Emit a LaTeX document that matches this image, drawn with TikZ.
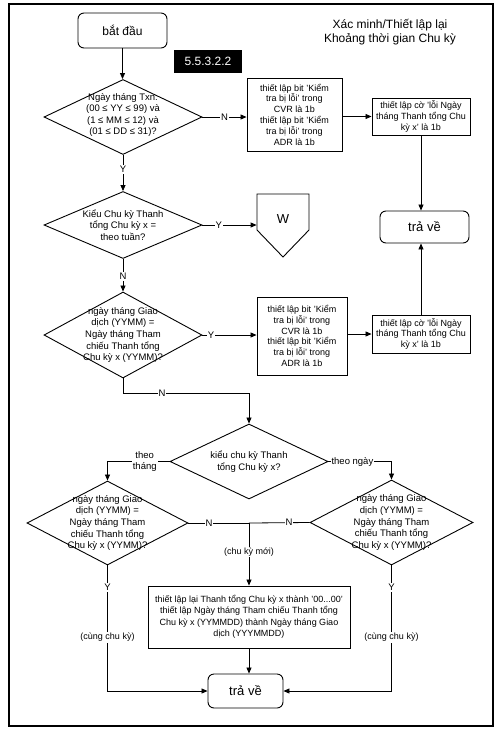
\documentclass[tikz,border=0pt]{standalone}
\usepackage{fontspec}
\setmainfont{Liberation Sans}
\usetikzlibrary{shapes.geometric,arrows.meta}
\begin{document}
\begin{tikzpicture}[x=1pt,y=-1pt,
  line width=0.8pt,
  arr/.style={-{Triangle[length=6pt,width=5pt]}},
  txt/.style={font=\fontsize{9.5}{11.6}\selectfont, align=center, inner sep=0pt},
  boxtxt/.style={font=\fontsize{9}{10.8}\selectfont, align=center},
  box/.style={draw, line width=0.9pt, boxtxt, inner sep=0pt},
  term/.style={draw, rounded corners=6pt, line width=0.9pt, font=\fontsize{13}{15}\selectfont},
  dia/.style={draw, diamond, inner sep=0pt, line width=0.9pt},
  lab/.style={fill=white, inner sep=1pt, font=\fontsize{9.5}{11}\selectfont, align=center},
]
\useasboundingbox (0,0) rectangle (501,732);
\draw[line width=1.4pt] (9,4) rectangle (493,726);

% nodes
\node[term, minimum width=89pt, minimum height=35pt, font=\fontsize{12}{14}\selectfont] (start) at (122.5,30.5) {bắt đầu};
\node[font=\fontsize{12}{14}\selectfont, align=center] (title) at (390,32) {Xác minh/Thiết lập lại\\Khoảng thời gian Chu kỳ};
\node[fill=black, text=white, minimum width=68pt, minimum height=23pt, font=\fontsize{12}{14}\selectfont] (sec) at (208,61.5) {5.5.3.2.2};

\node[dia, minimum width=158pt, minimum height=75pt] (d1) at (123,117) {};
\node[txt] (d1t) at (123,115) {Ngày tháng Txn:\\(00 ≤ YY ≤ 99) và\\(1 ≤ MM ≤ 12) và\\(01 ≤ DD ≤ 31)?};

\node[box, minimum width=95pt, minimum height=73pt] (b1) at (294.5,114.5) {thiết lập bit 'Kiểm\\tra bị lỗi' trong\\CVR là 1b\\thiết lập bit 'Kiểm\\tra bị lỗi' trong\\ADR là 1b};
\node[box, minimum width=98pt, minimum height=37pt] (b2) at (421,116.5) {thiết lập cờ 'lỗi Ngày\\tháng Thanh tổng Chu\\kỳ x' là 1b};
\node[term, minimum width=89pt, minimum height=32pt] (ret1) at (424.5,227) {trả về};

\node[dia, minimum width=158pt, minimum height=67pt] (d2) at (123,225) {};
\node[txt] (d2t) at (d2) {Kiểu Chu kỳ Thanh\\tổng Chu kỳ x =\\theo tuần?};

\node[minimum width=52pt, minimum height=12pt, inner sep=0pt, font=\fontsize{13}{15}\selectfont] (w) at (283,219) {W};
\draw[line width=0.9pt] (257,194) -- (309,194) -- (309,230) -- (283,257) -- (257,230) -- cycle;

\node[dia, minimum width=158pt, minimum height=86pt] (d3) at (123,335) {};
\node[txt] (d3t) at (d3) {ngày tháng Giao\\dịch (YYMM) =\\Ngày tháng Tham\\chiếu Thanh tổng\\Chu kỳ x (YYMM)?};

\node[box, minimum width=90pt, minimum height=78pt] (b3) at (302,336) {thiết lập bit 'Kiểm\\tra bị lỗi' trong\\CVR là 1b\\thiết lập bit 'Kiểm\\tra bị lỗi' trong\\ADR là 1b};
\node[box, minimum width=98pt, minimum height=38pt] (b4) at (421,334) {thiết lập cờ 'lỗi Ngày\\tháng Thanh tổng Chu\\kỳ x' là 1b};

\node[dia, minimum width=158pt, minimum height=75pt] (d4) at (249,461.5) {};
\node[txt] (d4t) at (d4) {kiểu chu kỳ Thanh\\tổng Chu kỳ x?};

\node[dia, minimum width=161pt, minimum height=84pt] (d5) at (107.5,523) {};
\node[txt] (d5t) at (d5) {ngày tháng Giao\\dịch (YYMM) =\\Ngày tháng Tham\\chiếu Thanh tổng\\Chu kỳ x (YYMM)?};

\node[dia, minimum width=163pt, minimum height=85pt] (d6) at (391.5,522.5) {};
\node[txt] (d6t) at (d6) {ngày tháng Giao\\dịch (YYMM) =\\Ngày tháng Tham\\chiếu Thanh tổng\\Chu kỳ x (YYMM)?};

\node[box, minimum width=202pt, minimum height=62pt, font=\fontsize{9}{11.5}\selectfont] (b5) at (249,617) {thiết lập lại Thanh tổng Chu kỳ x thành '00...00'\\thiết lập Ngày tháng Tham chiếu Thanh tổng\\Chu kỳ x (YYMMDD) thành Ngày tháng Giao\\dịch (YYYMMDD)};
\node[term, minimum width=75pt, minimum height=34pt] (ret2) at (245.5,691) {trả về};

\coordinate (m) at (249,523);

% connectors
\draw[arr] (start.south) -- (start.south |- d1.north);
\draw[arr] (d1.east) -- node[lab]{N} (d1.east -| b1.west);
\draw[arr] (b1.east |- b2.west) -- (b2.west);
\draw[arr] (b2.south) -- (b2.south |- ret1.north);
\draw[arr] (d1.south) -- node[lab, pos=0.4]{Y} (d2.north);
\draw[arr] (d2.east) -- node[lab, pos=0.3]{Y} (d2.east -| w.west);
\draw[arr] (d2.south) -- node[lab, pos=0.53]{N} (d3.north);
\draw[arr] (d3.east) -- node[lab, pos=0.16]{Y} (d3.east -| b3.west);
\draw[arr] (b3.east |- b4.west) -- (b4.west);
\draw[arr] (b4.north) -- (b4.north |- ret1.south);
\draw[arr] (d3.south) -- ++(0,15) -| node[lab, pos=0.155]{N} (d4.north);
\draw[arr] (d4.west) -| node[lab, pos=0.2]{theo\\tháng} (d5.north);
\draw[arr] (d4.east) -| node[lab, pos=0.19]{theo ngày} (d6.north);
\draw (d5.east) -- node[lab, pos=0.34]{N} (m);
\draw (d6.west) -- node[lab, pos=0.34]{N} (m);
\draw[arr] (m) -- node[lab, pos=0.46, font=\fontsize{9}{11}\selectfont]{(chu kỳ mới)} (m |- b5.north);
\draw[arr] (d5.south) |- node[lab, pos=0.087]{Y} node[lab, pos=0.286, font=\fontsize{9}{11}\selectfont]{(cùng chu kỳ)} (ret2.west);
\draw[arr] (d6.south) |- node[lab, pos=0.087]{Y} node[lab, pos=0.286, font=\fontsize{9}{11}\selectfont]{(cùng chu kỳ)} (ret2.east);
\draw[arr] (b5.south) -- (b5.south |- ret2.north);
\end{tikzpicture}
\end{document}
